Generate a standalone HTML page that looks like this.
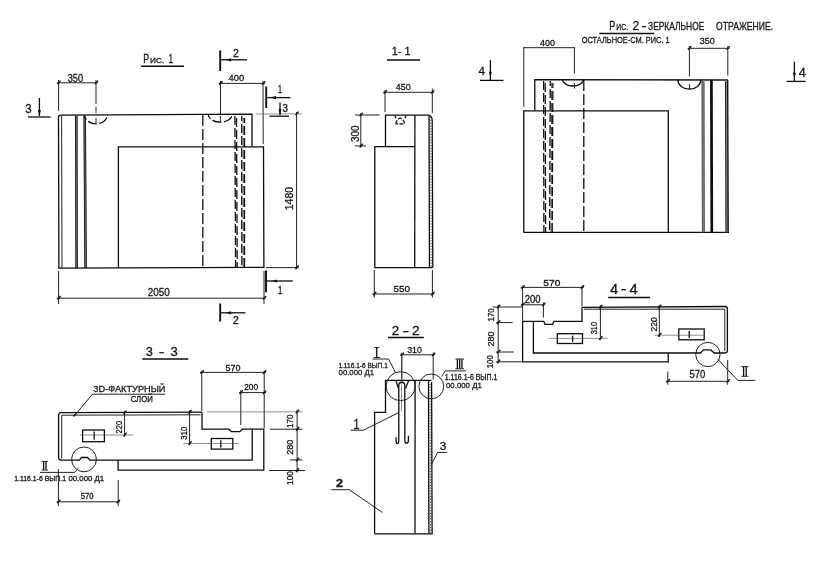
<!DOCTYPE html>
<html lang="ru">
<head>
<meta charset="utf-8">
<title>Чертёж</title>
<style>
html,body{margin:0;padding:0;background:#fff;}
body{width:819px;height:567px;overflow:hidden;font-family:"Liberation Sans",sans-serif;}
svg{display:block;filter:grayscale(1);}
.m{stroke:#0d0d0d;stroke-width:1.3;fill:none;stroke-linecap:butt;stroke-linejoin:miter;}
.b{stroke:#0d0d0d;stroke-width:1.9;fill:none;}
.h{stroke:#0d0d0d;stroke-width:1.5;fill:none;}
.t{stroke:#161616;stroke-width:0.95;fill:none;}
.g{stroke:#8a8a8a;stroke-width:2.2;fill:none;}
.u{stroke:#444;stroke-width:0.6;fill:none;}
.k{stroke:#111;stroke-width:1.3;fill:none;}
.d{stroke:#444;stroke-width:1.0;fill:none;}
.f{fill:#111;stroke:none;}
.tx{font-family:"Liberation Sans",sans-serif;fill:#141414;stroke:#141414;stroke-width:0.28;}
</style>
</head>
<body>
<svg width="819" height="567" viewBox="0 0 819 567">
<rect x="0" y="0" width="819" height="567" fill="#ffffff"/>
<text class="tx" x="143.27" y="62.8" font-size="12.66" textLength="5.87" lengthAdjust="spacingAndGlyphs">Р</text>
<text class="tx" x="150.11" y="62.8" font-size="7.77" textLength="14.28" lengthAdjust="spacingAndGlyphs">ИС.</text>
<text class="tx" x="168.58" y="63" font-size="12.37" textLength="4.64" lengthAdjust="spacingAndGlyphs">1</text>
<line class="h" x1="141" y1="66.3" x2="184" y2="66.3"/>
<path class="m" d="M58.9,268 L58.5,117.4 Q58.5,115.2 61,115.1 L252,114.2 V146.6"/>
<line class="t" x1="61.6" y1="116" x2="62" y2="268"/>
<line class="g" x1="76.3" y1="115" x2="76.6" y2="268"/>
<line class="t" x1="75.5" y1="115" x2="75.8" y2="268"/>
<line class="t" x1="77.1" y1="115" x2="77.4" y2="268"/>
<line class="g" x1="84.7" y1="115" x2="85.6" y2="268"/>
<line class="t" x1="83.9" y1="115" x2="84.8" y2="268"/>
<line class="t" x1="85.5" y1="117" x2="86.4" y2="268"/>
<path class="m" d="M118.4,268 V146.9 H263.5 L263.9,267.4"/>
<line class="m" x1="58.2" y1="268.2" x2="264.3" y2="267.4"/>
<line class="m" x1="202.8" y1="115" x2="202.8" y2="268" stroke-dasharray="11 3"/>
<line class="m" x1="234.9" y1="116" x2="235.6" y2="268" stroke-dasharray="9 3"/>
<line class="m" x1="236.5" y1="118" x2="237.2" y2="268" stroke-dasharray="9 3"/>
<line class="m" x1="241.7" y1="116" x2="241.8" y2="268" stroke-dasharray="9 3" stroke-dashoffset="4"/>
<line class="d" x1="243.2" y1="118" x2="243.2" y2="268" stroke-dasharray="9 3" stroke-dashoffset="4"/>
<line class="m" x1="244.5" y1="118" x2="244.5" y2="268" stroke-dasharray="9 3" stroke-dashoffset="4"/>
<path class="m" d="M84.6,115 A11.4,8.8 0 0 0 107.4,115" stroke-dasharray="5 2.5 9 2.5 5 0"/>
<line class="t" x1="96" y1="118" x2="96" y2="123.6"/>
<path class="m" d="M208.3,114.6 A11.8,7.6 0 0 0 232.2,114.4" stroke-dasharray="5 2.5 9 2.5 5 0"/>
<line class="t" x1="220.4" y1="116" x2="220.4" y2="122.5"/>
<line class="t" x1="56.800000000000004" y1="82.8" x2="97.8" y2="82.8"/>
<line class="k" x1="57.41" y1="84.16" x2="60.64" y2="80.59"/>
<line class="k" x1="94.81" y1="84.16" x2="98.04" y2="80.59"/>
<line class="t" x1="58.6" y1="80" x2="58.6" y2="111"/>
<line class="t" x1="96" y1="80" x2="96" y2="104"/>
<line class="t" x1="96" y1="106.5" x2="96" y2="113"/>
<text class="tx" x="67.7" y="82" font-size="10.07" textLength="15.41" lengthAdjust="spacingAndGlyphs">350</text>
<line class="t" x1="218.7" y1="83.4" x2="265.0" y2="83.4"/>
<line class="k" x1="219.31" y1="84.76" x2="222.54" y2="81.19"/>
<line class="k" x1="262.01" y1="84.76" x2="265.24" y2="81.19"/>
<line class="t" x1="220.5" y1="81" x2="220.5" y2="114"/>
<line class="t" x1="263" y1="81" x2="263.2" y2="144"/>
<text class="tx" x="228.51" y="81" font-size="9.78" textLength="15.58" lengthAdjust="spacingAndGlyphs">400</text>
<line class="b" x1="220.2" y1="50.5" x2="220.2" y2="71"/>
<line class="m" x1="220.5" y1="59.8" x2="247" y2="59.8"/>
<path class="f" d="M225.6,59.8 L231.2,58.199999999999996 L231.2,61.4 Z"/>
<text class="tx" x="233.07" y="56.9" font-size="10.65" textLength="5.87" lengthAdjust="spacingAndGlyphs">2</text>
<line class="b" x1="220.2" y1="303.5" x2="220.2" y2="321.5"/>
<line class="m" x1="220.5" y1="312.8" x2="245.5" y2="312.8"/>
<path class="f" d="M225.6,312.8 L231.2,311.2 L231.2,314.40000000000003 Z"/>
<text class="tx" x="232.75" y="324" font-size="10.94" textLength="6.09" lengthAdjust="spacingAndGlyphs">2</text>
<line class="b" x1="266.2" y1="86.5" x2="266.2" y2="108"/>
<line class="m" x1="266.5" y1="97.6" x2="290.5" y2="97.6"/>
<path class="f" d="M270,97.6 L276,96.0 L276,99.19999999999999 Z"/>
<text class="tx" x="278.0" y="92.6" font-size="10.07" textLength="4.01" lengthAdjust="spacingAndGlyphs">1</text>
<line class="b" x1="266" y1="270.5" x2="266" y2="292.3"/>
<line class="m" x1="266.4" y1="281" x2="292.8" y2="281"/>
<path class="f" d="M271.6,281 L277.0,279.4 L277.0,282.6 Z"/>
<text class="tx" x="277.66" y="293.9" font-size="10.79" textLength="4.78" lengthAdjust="spacingAndGlyphs">1</text>
<line class="m" x1="39.4" y1="98" x2="39.4" y2="116"/>
<path class="f" d="M39.4,116.5 L37.9,110.0 L40.9,110.0 Z"/>
<line class="m" x1="28" y1="117" x2="50.5" y2="117"/>
<text class="tx" x="25.2" y="113.3" font-size="12.09" textLength="6.41" lengthAdjust="spacingAndGlyphs">3</text>
<line class="m" x1="280" y1="102.5" x2="280" y2="115"/>
<path class="f" d="M280,115.7 L278.5,109.2 L281.5,109.2 Z"/>
<line class="m" x1="269.5" y1="116.2" x2="289" y2="116.2"/>
<text class="tx" x="282.5" y="111.8" font-size="10.07" textLength="5.51" lengthAdjust="spacingAndGlyphs">3</text>
<line class="u" x1="256" y1="114" x2="301.5" y2="113.8"/>
<line class="t" x1="266" y1="267.6" x2="299" y2="267.6"/>
<line class="t" x1="296.6" y1="112.0" x2="296.6" y2="269.40000000000003"/>
<line class="k" x1="295.41" y1="115.16" x2="298.64" y2="111.59"/>
<line class="k" x1="295.41" y1="268.96" x2="298.64" y2="265.39"/>
<text class="tx" x="293" y="210.3" font-size="10.07" textLength="23.41" lengthAdjust="spacingAndGlyphs" transform="rotate(-90 293 210.3)">1480</text>
<line class="t" x1="58.6" y1="271" x2="58.6" y2="304"/>
<line class="t" x1="264" y1="271" x2="264" y2="304"/>
<line class="t" x1="56.800000000000004" y1="298.2" x2="265.8" y2="298.2"/>
<line class="k" x1="57.41" y1="299.56" x2="60.64" y2="295.99"/>
<line class="k" x1="262.81" y1="299.56" x2="266.04" y2="295.99"/>
<text class="tx" x="147.7" y="296.4" font-size="10.07" textLength="22.01" lengthAdjust="spacingAndGlyphs">2050</text>
<text class="tx" x="391.87" y="55.2" font-size="10.65" textLength="18.67" lengthAdjust="spacingAndGlyphs">1- 1</text>
<line class="h" x1="387" y1="60" x2="420" y2="60"/>
<path class="m" d="M374.8,267.6 V146.7 H414.9 M385.5,146.7 V115.1 H428.2 Q431.9,115.2 432.2,120 L432.8,267.6"/>
<line class="m" x1="414.9" y1="115" x2="414.7" y2="267.6"/>
<line class="m" x1="429" y1="115.5" x2="429.5" y2="267.6"/>
<line class="d" x1="430.7" y1="117" x2="431.2" y2="267.6" stroke-dasharray="1.2 1.6"/>
<line class="m" x1="374.4" y1="267.7" x2="432.8" y2="267.7"/>
<path class="m" d="M394.9,115.8 L396,118.2 M406,115.8 L404.9,118.2"/>
<path class="m" d="M396.2,123.9 Q395.2,122.6 398,119.4 Q400.2,117 402.4,119.4 Q405.2,122.6 404.2,123.9 Z" stroke-dasharray="4 1.3"/>
<line class="t" x1="383.2" y1="92.3" x2="434.1" y2="92.3"/>
<line class="k" x1="383.81" y1="93.66" x2="387.04" y2="90.09"/>
<line class="k" x1="431.11" y1="93.66" x2="434.34" y2="90.09"/>
<line class="t" x1="385" y1="90" x2="385" y2="112"/>
<line class="t" x1="432.3" y1="88.5" x2="432.3" y2="113"/>
<text class="tx" x="395.71" y="90.2" font-size="9.78" textLength="14.98" lengthAdjust="spacingAndGlyphs">450</text>
<line class="t" x1="355" y1="115" x2="379.4" y2="115"/>
<line class="t" x1="355" y1="145.9" x2="366" y2="145.9"/>
<line class="t" x1="360.8" y1="113.2" x2="360.8" y2="147.70000000000002"/>
<line class="k" x1="359.61" y1="116.36" x2="362.84" y2="112.79"/>
<line class="k" x1="359.61" y1="147.26" x2="362.84" y2="143.69"/>
<text class="tx" x="358.8" y="142.1" font-size="10.07" textLength="16.61" lengthAdjust="spacingAndGlyphs" transform="rotate(-90 358.8 142.1)">300</text>
<line class="t" x1="374.3" y1="270" x2="374.3" y2="297.5"/>
<line class="t" x1="432.4" y1="270" x2="432.4" y2="297.5"/>
<line class="t" x1="372.5" y1="294" x2="434.2" y2="294"/>
<line class="k" x1="373.11" y1="295.36" x2="376.34" y2="291.79"/>
<line class="k" x1="431.21" y1="295.36" x2="434.44" y2="291.79"/>
<text class="tx" x="393.51" y="292" font-size="9.78" textLength="16.58" lengthAdjust="spacingAndGlyphs">550</text>
<text class="tx" x="391.77" y="335.2" font-size="12.66" textLength="7.47" lengthAdjust="spacingAndGlyphs">2</text>
<text class="tx" x="402.37" y="335.2" font-size="12.66" textLength="6.87" lengthAdjust="spacingAndGlyphs">-</text>
<text class="tx" x="411.97" y="335.2" font-size="12.66" textLength="7.67" lengthAdjust="spacingAndGlyphs">2</text>
<line class="h" x1="388" y1="337.6" x2="423.8" y2="337.6"/>
<path class="m" d="M374.6,533.8 V412.3 H385.5 V380.4 H431.4"/>
<line class="m" x1="374.6" y1="533.8" x2="432.8" y2="533.8"/>
<line class="m" x1="415.1" y1="380.6" x2="415" y2="533.8"/>
<line class="m" x1="428.5" y1="380.6" x2="428.9" y2="533.8"/>
<line class="m" x1="431.6" y1="382" x2="432.1" y2="533.8"/>
<line class="d" x1="430.1" y1="384" x2="430.5" y2="533" stroke-dasharray="1.2 1.6"/>
<path class="m" d="M395.9,380.4 L398.4,388.2 M408.7,380.4 L405.5,388.2"/>
<path class="m" d="M398.8,440.6 V385.6 A2.95,3.3 0 0 1 404.8,385.6 V440.6"/>
<path class="m" d="M398.8,440.4 Q398.8,443.6 397.4,443.6 Q396.1,443.6 396.1,440.8 V437.2"/>
<path class="m" d="M404.8,440.4 Q404.8,443.2 406.6,443.2 Q408.4,443.2 408.4,440.4 V435.8"/>
<line class="u" x1="401.5" y1="353" x2="401.5" y2="411.2"/>
<circle class="t" cx="400.6" cy="386.2" r="14.5"/>
<circle class="t" cx="431.3" cy="386.4" r="12.4"/>
<line class="t" x1="400.09999999999997" y1="354.8" x2="435.0" y2="354.8"/>
<line class="k" x1="400.71" y1="356.16" x2="403.94" y2="352.59"/>
<line class="k" x1="432.01" y1="356.16" x2="435.24" y2="352.59"/>
<line class="t" x1="401.9" y1="352.5" x2="401.9" y2="379.5"/>
<line class="t" x1="433.2" y1="352.5" x2="433.2" y2="379.5"/>
<text class="tx" x="407.21" y="353.2" font-size="9.78" textLength="14.68" lengthAdjust="spacingAndGlyphs">310</text>
<line class="m" x1="376.7" y1="347.6" x2="376.7" y2="358"/>
<line class="t" x1="374.4" y1="347.6" x2="379.2" y2="347.6"/>
<line class="t" x1="373.8" y1="357.6" x2="380.2" y2="357.6"/>
<line class="t" x1="372.5" y1="359" x2="388.6" y2="359"/>
<line class="t" x1="388.6" y1="359" x2="395.3" y2="372.2"/>
<text class="tx" x="338.4" y="367.6" font-size="8.06" textLength="49.41" lengthAdjust="spacingAndGlyphs">1.116.1-6 ВЫП.1</text>
<text class="tx" x="338.6" y="375.4" font-size="8.06" textLength="35.41" lengthAdjust="spacingAndGlyphs">00.000 Д1</text>
<line class="m" x1="457.4" y1="359.2" x2="457.4" y2="368.6"/>
<line class="m" x1="459.7" y1="359.2" x2="459.7" y2="368.6"/>
<line class="m" x1="462" y1="359.2" x2="462" y2="368.6"/>
<line class="t" x1="455.4" y1="359" x2="464" y2="359"/>
<line class="t" x1="455.4" y1="368.8" x2="464" y2="368.8"/>
<line class="t" x1="445.4" y1="370.9" x2="466.2" y2="370.9"/>
<line class="t" x1="445.4" y1="370.9" x2="441.6" y2="376.6"/>
<text class="tx" x="444.78" y="379.8" font-size="8.35" textLength="52.64" lengthAdjust="spacingAndGlyphs">1.116.1-6 ВЫП.1</text>
<text class="tx" x="446.0" y="387.8" font-size="8.06" textLength="35.81" lengthAdjust="spacingAndGlyphs">00.000 Д1</text>
<text class="tx" x="353.51" y="429" font-size="13.81" textLength="5.98" lengthAdjust="spacingAndGlyphs">1</text>
<line class="t" x1="350.5" y1="430.2" x2="363.5" y2="430.2"/>
<line class="t" x1="363.5" y1="430.2" x2="398.2" y2="412.8"/>
<text class="tx" x="336.1" y="487.2" font-size="10.07" textLength="7.01" lengthAdjust="spacingAndGlyphs" font-weight="bold">2</text>
<line class="t" x1="331.3" y1="489.7" x2="349.2" y2="489.7"/>
<line class="t" x1="349.2" y1="489.7" x2="382.3" y2="512.4"/>
<text class="tx" x="439.8" y="450.4" font-size="10.07" textLength="6.51" lengthAdjust="spacingAndGlyphs">3</text>
<line class="t" x1="437.6" y1="452.4" x2="447.2" y2="452.4"/>
<line class="t" x1="437.6" y1="452.4" x2="431.4" y2="464.5"/>
<text class="tx" x="145.68" y="355.6" font-size="12.37" textLength="7.14" lengthAdjust="spacingAndGlyphs">3</text>
<text class="tx" x="158.78" y="355.6" font-size="12.37" textLength="5.64" lengthAdjust="spacingAndGlyphs">-</text>
<text class="tx" x="170.58" y="355.6" font-size="12.37" textLength="7.24" lengthAdjust="spacingAndGlyphs">3</text>
<line class="h" x1="142.3" y1="359" x2="188.3" y2="359"/>
<path class="m" d="M202,412.1 L61,412.6 Q58.6,412.7 58.6,415.2 V457.6 Q58.6,460 61,460.1 H79.3 L81.6,457.5 H87.6 L89.9,460.1 H252.2 V429.2"/>
<path class="m" d="M202,412.2 V429.2 H228.8 L231.4,431.6 H239.8 L242.2,429.2 H263.8 V470.2 H118.1 V460.2"/>
<path class="t" d="M61.7,458.4 V415.2 L200.6,414.8"/>
<circle class="t" cx="84" cy="459.4" r="12.4"/>
<rect class="m" x="82.6" y="430" width="21.8" height="11.7"/>
<line class="m" x1="94.2" y1="431.6" x2="94.2" y2="439.8"/>
<line class="u" x1="80" y1="435" x2="133.4" y2="435"/>
<rect class="m" x="211.3" y="438.5" width="21.5" height="10.6"/>
<line class="m" x1="220.8" y1="440.2" x2="220.8" y2="447.4"/>
<line class="u" x1="183.4" y1="443.5" x2="239" y2="443.5"/>
<text class="tx" x="93.34" y="392.2" font-size="9.21" textLength="72.12" lengthAdjust="spacingAndGlyphs">3D-ФАКТУРНЫЙ</text>
<line class="t" x1="92.4" y1="394.2" x2="165.2" y2="394.2"/>
<line class="t" x1="92.4" y1="394.2" x2="74.6" y2="415.6"/>
<line class="k" x1="73.48" y1="416.48" x2="76.52" y2="413.12"/>
<text class="tx" x="130.78" y="402.2" font-size="8.35" textLength="22.04" lengthAdjust="spacingAndGlyphs">СЛОЙ</text>
<line class="t" x1="124.6" y1="411.0" x2="124.6" y2="436.8"/>
<line class="k" x1="123.41" y1="414.16" x2="126.64" y2="410.59"/>
<line class="k" x1="123.41" y1="436.36" x2="126.64" y2="432.79"/>
<text class="tx" x="121.8" y="433.42" font-size="8.35" textLength="12.64" lengthAdjust="spacingAndGlyphs" transform="rotate(-90 121.8 433.42)">220</text>
<line class="t" x1="189.6" y1="410.4" x2="189.6" y2="445.3"/>
<line class="k" x1="188.41" y1="413.56" x2="191.64" y2="409.99"/>
<line class="k" x1="188.41" y1="444.86" x2="191.64" y2="441.29"/>
<text class="tx" x="186.8" y="439.86" font-size="9.21" textLength="13.12" lengthAdjust="spacingAndGlyphs" transform="rotate(-90 186.8 439.86)">310</text>
<line class="t" x1="200.0" y1="372.4" x2="266.0" y2="372.4"/>
<line class="k" x1="200.61" y1="373.76" x2="203.84" y2="370.19"/>
<line class="k" x1="263.01" y1="373.76" x2="266.24" y2="370.19"/>
<line class="t" x1="201.8" y1="370.6" x2="201.8" y2="411"/>
<line class="t" x1="264.2" y1="370.6" x2="264.2" y2="428"/>
<text class="tx" x="225.57" y="370.6" font-size="8.63" textLength="15.06" lengthAdjust="spacingAndGlyphs">570</text>
<line class="t" x1="239.0" y1="392.6" x2="266.0" y2="392.6"/>
<line class="k" x1="239.61" y1="393.96" x2="242.84" y2="390.39"/>
<line class="k" x1="263.01" y1="393.96" x2="266.24" y2="390.39"/>
<line class="t" x1="240.8" y1="390" x2="240.8" y2="425"/>
<text class="tx" x="244.14" y="390.2" font-size="9.21" textLength="13.92" lengthAdjust="spacingAndGlyphs">200</text>
<line class="u" x1="207" y1="411.9" x2="302.5" y2="411.9"/>
<line class="t" x1="270" y1="429.2" x2="302.5" y2="429.2"/>
<line class="t" x1="290" y1="459.9" x2="302.5" y2="459.9"/>
<line class="t" x1="269" y1="470.5" x2="305" y2="470.5"/>
<line class="t" x1="297.1" y1="409.8" x2="297.1" y2="472.5"/>
<line class="k" x1="295.91" y1="413.26" x2="299.14" y2="409.69"/>
<line class="k" x1="295.91" y1="430.56" x2="299.14" y2="426.99"/>
<line class="k" x1="295.91" y1="461.26" x2="299.14" y2="457.69"/>
<line class="k" x1="295.91" y1="471.86" x2="299.14" y2="468.29"/>
<text class="tx" x="292.6" y="428.02" font-size="8.35" textLength="13.44" lengthAdjust="spacingAndGlyphs" transform="rotate(-90 292.6 428.02)">170</text>
<text class="tx" x="292.6" y="454.82" font-size="8.35" textLength="15.23" lengthAdjust="spacingAndGlyphs" transform="rotate(-90 292.6 454.82)">280</text>
<text class="tx" x="292.6" y="485.02" font-size="8.35" textLength="14.04" lengthAdjust="spacingAndGlyphs" transform="rotate(-90 292.6 485.02)">100</text>
<line class="t" x1="58.4" y1="469" x2="58.4" y2="506"/>
<line class="t" x1="118.2" y1="480" x2="118.2" y2="506"/>
<line class="t" x1="56.6" y1="501.8" x2="119.8" y2="501.8"/>
<line class="k" x1="57.21" y1="503.16" x2="60.44" y2="499.59"/>
<line class="k" x1="116.81" y1="503.16" x2="120.04" y2="499.59"/>
<text class="tx" x="80.78" y="499.4" font-size="8.35" textLength="12.84" lengthAdjust="spacingAndGlyphs">570</text>
<line class="m" x1="43.6" y1="461.6" x2="43.6" y2="469.8"/>
<line class="m" x1="46" y1="461.6" x2="46" y2="469.8"/>
<line class="t" x1="41.6" y1="461.4" x2="48" y2="461.4"/>
<line class="t" x1="41.6" y1="470" x2="48" y2="470"/>
<line class="t" x1="40" y1="472.4" x2="74.6" y2="472.4"/>
<line class="t" x1="74.6" y1="472.4" x2="78.2" y2="468.2"/>
<text class="tx" x="14.21" y="481.2" font-size="7.77" textLength="51.78" lengthAdjust="spacingAndGlyphs">1.116.1-6 ВЫП.1</text>
<text class="tx" x="68.41" y="481.2" font-size="7.77" textLength="35.78" lengthAdjust="spacingAndGlyphs">00.000 Д1</text>
<text class="tx" x="609.34" y="30" font-size="13.24" textLength="5.92" lengthAdjust="spacingAndGlyphs">Р</text>
<text class="tx" x="616.37" y="30" font-size="8.63" textLength="11.66" lengthAdjust="spacingAndGlyphs">ИС.</text>
<text class="tx" x="632.55" y="30" font-size="12.95" textLength="6.69" lengthAdjust="spacingAndGlyphs">2</text>
<text class="tx" x="641.35" y="30" font-size="12.95" textLength="5.29" lengthAdjust="spacingAndGlyphs">-</text>
<text class="tx" x="648.08" y="30" font-size="10.36" textLength="56.24" lengthAdjust="spacingAndGlyphs">ЗЕРКАЛЬНОЕ</text>
<text class="tx" x="716.08" y="30" font-size="10.36" textLength="57.04" lengthAdjust="spacingAndGlyphs">ОТРАЖЕНИЕ.</text>
<line class="h" x1="599.3" y1="33.4" x2="654.3" y2="33.4"/>
<text class="tx" x="581.73" y="43.2" font-size="9.5" textLength="87.95" lengthAdjust="spacingAndGlyphs">ОСТАЛЬНОЕ-СМ. РИС. 1</text>
<path class="m" d="M523.8,232.2 V110.8 H668.3 V232.2"/>
<path class="m" d="M534.8,110.6 V79.6 L727.8,80"/>
<line class="m" x1="523.4" y1="232.3" x2="729" y2="232.3"/>
<line class="g" x1="726.6" y1="80.5" x2="727.0" y2="232.3"/>
<line class="m" x1="727.7" y1="80" x2="728.2" y2="232.3"/>
<line class="t" x1="725.5" y1="81.5" x2="725.9" y2="232.3"/>
<line class="g" x1="703" y1="80.5" x2="703.4" y2="232.3" style="stroke-width:2.9;stroke:#7d7d7d"/>
<line class="u" x1="702" y1="80" x2="702.4" y2="232.3"/>
<line class="u" x1="704" y1="82" x2="704.4" y2="232.3"/>
<line class="m" x1="711.4" y1="80" x2="711.8" y2="232.3" style="stroke-width:2.7"/>
<line class="m" x1="543.6" y1="81" x2="543.9" y2="232" stroke-dasharray="9 3"/>
<line class="m" x1="545.2" y1="83" x2="545.6" y2="232" stroke-dasharray="9 3"/>
<line class="m" x1="550.3" y1="81" x2="549.6" y2="232" stroke-dasharray="9 3" stroke-dashoffset="4"/>
<line class="d" x1="551.7" y1="83" x2="551.0" y2="232" stroke-dasharray="9 3" stroke-dashoffset="4"/>
<line class="m" x1="552.9" y1="83" x2="552.2" y2="232" stroke-dasharray="9 3" stroke-dashoffset="4"/>
<line class="m" x1="583.8" y1="80" x2="583.8" y2="232" stroke-dasharray="11 3"/>
<path class="m" d="M562.2,79.8 A11.2,8.8 0 0 0 583.6,79.8"/>
<line class="t" x1="574.4" y1="83" x2="574.4" y2="88.6"/>
<path class="m" d="M677.9,80.1 A11.45,9.1 0 0 0 700.8,80.1"/>
<line class="t" x1="689.5" y1="84.3" x2="689.5" y2="89.5"/>
<line class="t" x1="523.4" y1="47.7" x2="574.8" y2="47.7"/>
<line class="t" x1="523.8" y1="47.4" x2="523.8" y2="107"/>
<line class="t" x1="574.4" y1="47.4" x2="574.4" y2="73.4"/>
<text class="tx" x="539.94" y="46" font-size="9.21" textLength="14.92" lengthAdjust="spacingAndGlyphs">400</text>
<line class="t" x1="687.6" y1="48.3" x2="729.5999999999999" y2="48.3"/>
<line class="k" x1="688.21" y1="49.66" x2="691.44" y2="46.09"/>
<line class="k" x1="726.61" y1="49.66" x2="729.84" y2="46.09"/>
<line class="t" x1="689.4" y1="46" x2="689.4" y2="76.4"/>
<line class="t" x1="727.8" y1="46" x2="727.8" y2="75.5"/>
<text class="tx" x="699.72" y="44.3" font-size="9.64" textLength="14.96" lengthAdjust="spacingAndGlyphs">350</text>
<line class="m" x1="490.4" y1="60" x2="490.4" y2="80"/>
<path class="f" d="M490.4,77.8 L488.9,71.8 L491.9,71.8 Z"/>
<line class="m" x1="480" y1="80.4" x2="503.4" y2="80.4"/>
<text class="tx" x="478.42" y="75" font-size="11.65" textLength="6.47" lengthAdjust="spacingAndGlyphs">4</text>
<line class="m" x1="794.4" y1="61.6" x2="794.4" y2="81"/>
<path class="f" d="M794.4,78.8 L792.9,72.8 L795.9,72.8 Z"/>
<line class="m" x1="786.6" y1="81.4" x2="805.6" y2="81.4"/>
<text class="tx" x="798.64" y="76.5" font-size="13.24" textLength="7.12" lengthAdjust="spacingAndGlyphs">4</text>
<text class="tx" x="610.08" y="293.8" font-size="14.39" textLength="8.24" lengthAdjust="spacingAndGlyphs">4</text>
<text class="tx" x="620.88" y="293.8" font-size="14.39" textLength="5.84" lengthAdjust="spacingAndGlyphs">-</text>
<text class="tx" x="629.48" y="293.8" font-size="14.39" textLength="8.24" lengthAdjust="spacingAndGlyphs">4</text>
<line class="h" x1="608.2" y1="297.5" x2="650" y2="297.5"/>
<path class="m" d="M582,307.4 L725,306.5 Q727.4,306.5 727.4,309 V350.6 Q727.4,353 725,353 H714.2 L710.8,349.9 H703.4 L700.6,353 H533.4 V321.4"/>
<path class="m" d="M582,307.4 V321.3 H553.8 L552.6,324.3 H545 L543.8,321.3 H522.6 V361.9 H668.2 V353.2"/>
<path class="t" d="M584,309.2 H724.8 V351"/>
<circle class="t" cx="707.9" cy="354.5" r="12.15"/>
<rect class="m" x="557.3" y="333.7" width="25.2" height="9.8"/>
<line class="m" x1="572.6" y1="335.6" x2="572.6" y2="341.8"/>
<line class="u" x1="548.6" y1="338.4" x2="607.6" y2="338.4"/>
<rect class="m" x="678.8" y="329" width="25.4" height="10.8"/>
<line class="m" x1="689.2" y1="331" x2="689.2" y2="338"/>
<line class="u" x1="654.6" y1="335.2" x2="704.2" y2="335.2"/>
<line class="t" x1="600.4" y1="305.4" x2="600.4" y2="340.2"/>
<line class="k" x1="599.21" y1="308.56" x2="602.44" y2="304.99"/>
<line class="k" x1="599.21" y1="339.76" x2="602.44" y2="336.19"/>
<text class="tx" x="597.4" y="334.25" font-size="8.92" textLength="12.29" lengthAdjust="spacingAndGlyphs" transform="rotate(-90 597.4 334.25)">310</text>
<line class="t" x1="659.3" y1="305.2" x2="659.3" y2="337.0"/>
<line class="k" x1="658.11" y1="308.36" x2="661.34" y2="304.79"/>
<line class="k" x1="658.11" y1="336.56" x2="661.34" y2="332.99"/>
<text class="tx" x="656.6" y="331.48" font-size="9.5" textLength="14.15" lengthAdjust="spacingAndGlyphs" transform="rotate(-90 656.6 331.48)">220</text>
<line class="t" x1="520.8000000000001" y1="287.4" x2="583.8" y2="287.4"/>
<line class="k" x1="521.41" y1="288.76" x2="524.64" y2="285.19"/>
<line class="k" x1="580.81" y1="288.76" x2="584.04" y2="285.19"/>
<line class="t" x1="522.6" y1="285.6" x2="522.6" y2="320.6"/>
<line class="t" x1="582" y1="285.6" x2="582" y2="306.4"/>
<text class="tx" x="543.35" y="285.6" font-size="8.92" textLength="17.09" lengthAdjust="spacingAndGlyphs">570</text>
<line class="t" x1="520.8000000000001" y1="304.8" x2="545.1999999999999" y2="304.8"/>
<line class="k" x1="521.41" y1="306.16" x2="524.64" y2="302.59"/>
<line class="k" x1="542.21" y1="306.16" x2="545.44" y2="302.59"/>
<line class="t" x1="543.4" y1="302.5" x2="543.4" y2="317.6"/>
<text class="tx" x="524.7" y="302.6" font-size="10.07" textLength="15.81" lengthAdjust="spacingAndGlyphs">200</text>
<line class="t" x1="492.5" y1="307" x2="522.4" y2="307"/>
<line class="t" x1="496" y1="322.6" x2="512.6" y2="322.6"/>
<line class="t" x1="496" y1="352" x2="513.6" y2="352"/>
<line class="t" x1="496" y1="361.8" x2="522.4" y2="361.8"/>
<line class="t" x1="498.2" y1="304.8" x2="498.2" y2="363.4"/>
<line class="k" x1="497.01" y1="308.36" x2="500.24" y2="304.79"/>
<line class="k" x1="497.01" y1="323.96" x2="500.24" y2="320.39"/>
<line class="k" x1="497.01" y1="353.36" x2="500.24" y2="349.79"/>
<line class="k" x1="497.01" y1="363.16" x2="500.24" y2="359.59"/>
<text class="tx" x="493.8" y="321.43" font-size="8.63" textLength="13.06" lengthAdjust="spacingAndGlyphs" transform="rotate(-90 493.8 321.43)">170</text>
<text class="tx" x="493.8" y="346.43" font-size="8.63" textLength="14.86" lengthAdjust="spacingAndGlyphs" transform="rotate(-90 493.8 346.43)">280</text>
<text class="tx" x="493.2" y="368.22" font-size="8.35" textLength="13.03" lengthAdjust="spacingAndGlyphs" transform="rotate(-90 493.2 368.22)">100</text>
<line class="t" x1="667.8" y1="371.6" x2="667.8" y2="384.8"/>
<line class="t" x1="727.7" y1="360" x2="727.7" y2="384.8"/>
<line class="t" x1="666.0" y1="381.3" x2="729.5" y2="381.3"/>
<line class="k" x1="666.61" y1="382.66" x2="669.84" y2="379.09"/>
<line class="k" x1="726.51" y1="382.66" x2="729.74" y2="379.09"/>
<text class="tx" x="689.5" y="377.6" font-size="10.07" textLength="15.81" lengthAdjust="spacingAndGlyphs">570</text>
<line class="t" x1="718" y1="359.4" x2="737.8" y2="380.4"/>
<line class="t" x1="737.8" y1="380.4" x2="755.2" y2="380.4"/>
<line class="m" x1="743.6" y1="366.8" x2="743.6" y2="376"/>
<line class="m" x1="746.2" y1="366.8" x2="746.2" y2="376"/>
<line class="t" x1="741.4" y1="366.6" x2="748.4" y2="366.6"/>
<line class="t" x1="741.4" y1="376.3" x2="748.4" y2="376.3"/>
</svg>
</body>
</html>
